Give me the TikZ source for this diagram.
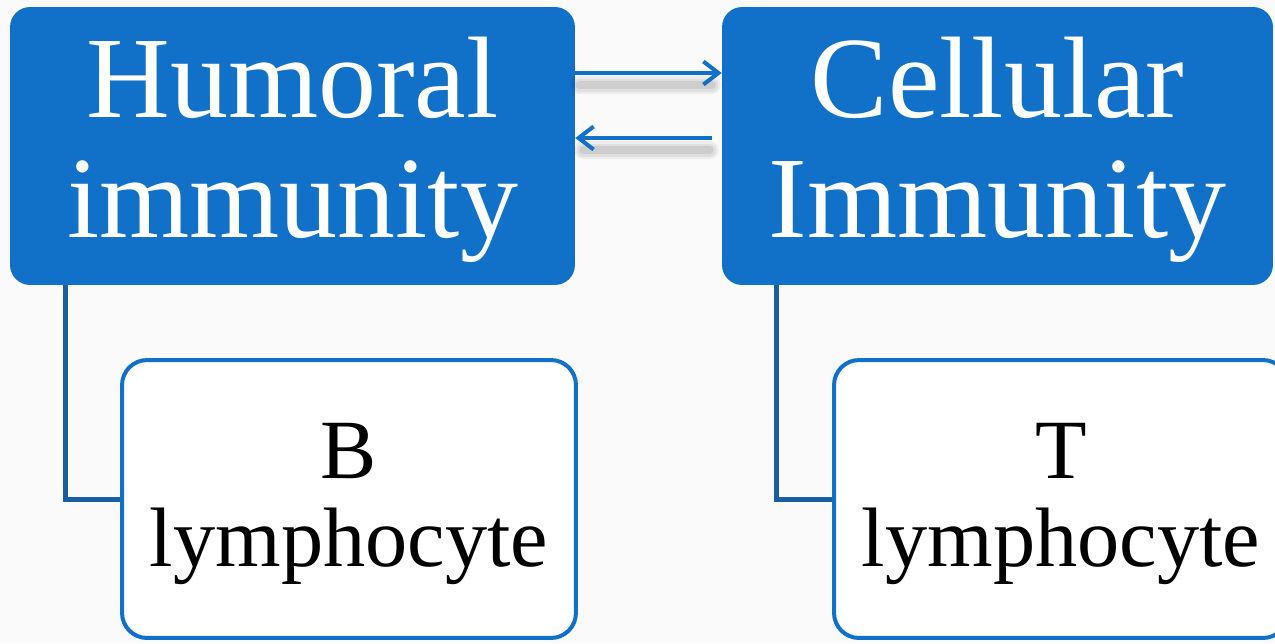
\documentclass[tikz,border=0pt]{standalone}
\usepackage{fontspec}
\setmainfont{Liberation Serif}
\usetikzlibrary{arrows.meta,calc}
\definecolor{boxblue}{HTML}{1170C8}
\definecolor{linkblue}{HTML}{1A5EA2}
\tikzset{
  headbox/.style={draw=none, fill=boxblue, rounded corners=0.4cm, text=white,
    minimum width=#1, minimum height=5.56cm, align=center, inner sep=0pt,
    font=\fontsize{66}{68}\selectfont},
  subbox/.style={draw=boxblue, line width=0.08cm, fill=white, rounded corners=0.5cm,
    minimum width=9.08cm, minimum height=5.56cm, align=center, inner sep=0pt,
    font=\fontsize{48}{50}\selectfont},
  link/.style={draw=linkblue, line width=0.1cm},
  swap/.style={draw=boxblue, line width=0.08cm, -{Straight Barb[length=0.3cm,width=0.46cm]}},
  shade/.style={draw=black, line cap=round}
}
\begin{document}
\begin{tikzpicture}[x=0.02cm,y=-0.02cm]
\fill[gray!4] (0,0) rectangle (1275,643);
\useasboundingbox (0,0) rectangle (1275,643);
\node[headbox=11.3cm] (hum) at (292.5,146) {\rule{0pt}{50pt}Humoral\\immunity};
\node[headbox=11.02cm] (cel) at (997.5,146) {\rule{0pt}{50pt}Cellular\\Immunity};
\node[subbox] (bl) at (349,499) {\rule{0pt}{37.5pt}B\\lymphocyte};
\node[subbox] (tl) at (1061,499) {\rule{0pt}{37.5pt}T\\lymphocyte};
\coordinate (a1s) at (hum.east |- 0,73);
\coordinate (a1e) at (cel.west |- 0,73);
\coordinate (a2s) at ($(cel.west |- 0,138)+(-10,0)$);
\coordinate (a2e) at (hum.east |- 0,138);
\foreach \w/\o in {0.36cm/0.05,0.26cm/0.06,0.16cm/0.08}{
  \draw[shade, line width=\w, opacity=\o] ($(a1s)+(4,12)$) -- ($(a1e)+(-10,12)$);
  \draw[shade, line width=\w, opacity=\o] ($(a2s)+(-2,12)$) -- ($(a2e)+(8,12)$);
}
\draw[swap] (a1s) -- (a1e);
\draw[swap] (a2s) -- (a2e);
\draw[link] (hum.south -| 65,0) |- (bl.west);
\draw[link] (cel.south -| 776,0) |- (tl.west);
\end{tikzpicture}
\end{document}
